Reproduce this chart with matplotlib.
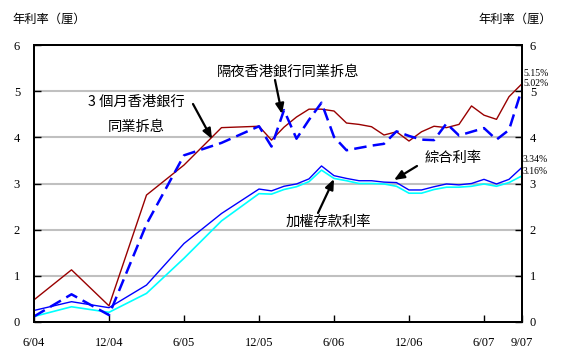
import matplotlib
matplotlib.use("Agg")
import matplotlib.pyplot as plt

# ---------------- data ----------------
periods = ["6/04", "9/04", "12/04", "3/05", "6/05", "9/05", "12/05",
           "1/06", "2/06", "3/06", "4/06", "5/06", "6/06", "7/06", "8/06",
           "9/06", "10/06", "11/06", "12/06", "1/07", "2/07", "3/07", "4/07",
           "5/07", "6/07", "7/07", "8/07", "9/07"]

hibor_3m = [0.48, 1.13, 0.35, 2.75, 3.40, 4.21, 4.24,
            3.94, 4.22, 4.44, 4.61, 4.61, 4.57, 4.31, 4.28,
            4.23, 4.05, 4.12, 3.92, 4.12, 4.24, 4.21, 4.28,
            4.68, 4.48, 4.39, 4.88, 5.15]

hibor_on = [0.12, 0.60, 0.15, 2.12, 3.61, 3.88, 4.24,
            3.80, 4.59, 3.97, 4.38, 4.75, 4.01, 3.72, 3.77,
            3.82, 3.86, 4.13, 4.03, 3.95, 3.94, 4.30, 4.04,
            4.12, 4.20, 3.95, 4.16, 5.02]

composite = [0.25, 0.44, 0.31, 0.80, 1.70, 2.35, 2.88,
             2.84, 2.94, 2.99, 3.10, 3.38, 3.17, 3.11, 3.06,
             3.06, 3.03, 3.02, 2.86, 2.86, 2.93, 2.99, 2.97,
             3.00, 3.09, 2.99, 3.09, 3.34]

weighted_deposit = [0.12, 0.33, 0.21, 0.62, 1.38, 2.19, 2.78,
                    2.77, 2.87, 2.93, 3.04, 3.29, 3.11, 3.06, 3.00,
                    3.00, 2.99, 2.94, 2.79, 2.79, 2.87, 2.92, 2.92,
                    2.94, 2.99, 2.94, 3.02, 3.16]

xtick_labels = ["6/04", "12/04", "6/05", "12/05", "6/06", "12/06", "6/07", "9/07"]
ytick_values = [0, 1, 2, 3, 4, 5, 6]
end_labels = ["5.15%", "5.02%", "3.34%", "3.16%"]

axis_title = "年利率（厘）"
label_on = "隔夜香港銀行同業拆息"
label_3m_1 = "3 個月香港銀行"
label_3m_2 = "同業拆息"
label_comp = "綜合利率"
label_wd = "加權存款利率"


def month_index(s):
    m, y = s.split("/")
    return (int(y) - 4) * 12 + int(m) - 6


x = [month_index(p) for p in periods]
xticks = [month_index(p) for p in xtick_labels]

# ---------------- figure ----------------
W, H = 565, 361
fig = plt.figure(figsize=(W / 100, H / 100), dpi=100)
L, R, T, B = 34, 521.5, 45, 322
ax = fig.add_axes([L / W, 1 - B / H, (R - L) / W, (B - T) / H])

cjk = ["Noto Sans CJK TC", "DejaVu Sans"]
serif = "Liberation Serif"

ax.set_xlim(x[0], x[-1])
ax.set_ylim(0, 6)
for v in ytick_values[1:-1]:
    ax.axhline(v, color="#c0c0c0", lw=1.5, zorder=1)

ax.plot(x, weighted_deposit, color="#00ffff", lw=1.2, zorder=3)
ax.plot(x, composite, color="#0000ff", lw=1.0, zorder=4)
ax.plot(x, hibor_3m, color="#990000", lw=1.0, zorder=3)
ax.plot(x, hibor_on, color="#0000ff", lw=1.8, dashes=(5, 2.5), zorder=5)

for s in ax.spines.values():
    s.set_linewidth(1.4)
    s.set_color("black")

ax.set_xticks(xticks)
ax.set_xticklabels(xtick_labels, fontfamily=serif, fontsize=9)
ax.tick_params(axis="x", direction="in", length=5, width=1, pad=11)
ax.set_yticks(ytick_values)
ax.set_yticklabels([str(v) for v in ytick_values], fontfamily=serif, fontsize=9)
ax.tick_params(axis="y", direction="in", length=5, width=1, pad=10)

# right-hand axis with the same scale
axr = ax.twinx()
axr.set_ylim(ax.get_ylim())
axr.set_yticks(ytick_values)
axr.set_yticklabels([str(v) for v in ytick_values], fontfamily=serif, fontsize=9)
axr.tick_params(axis="y", direction="in", length=5, width=1, pad=6)
for s in axr.spines.values():
    s.set_linewidth(1.4)


def fp(px, py):
    return (px, H - py)


fig.text(12 / W, 1 - 19 / H, axis_title, family=cjk, fontsize=8.8,
         ha="left", va="center")
fig.text(478 / W, 1 - 19 / H, axis_title, family=cjk, fontsize=8.8,
         ha="left", va="center")

fig.text(288 / W, 1 - 72 / H, label_on, family=cjk, fontsize=10.3,
         ha="center", va="center")
fig.text(136 / W, 1 - 102 / H, label_3m_1, family=cjk, fontsize=10.3,
         ha="center", va="center")
fig.text(136 / W, 1 - 127 / H, label_3m_2, family=cjk, fontsize=10.3,
         ha="center", va="center")
fig.text(453 / W, 1 - 158 / H, label_comp, family=cjk, fontsize=10.3,
         ha="center", va="center")
fig.text(328 / W, 1 - 222 / H, label_wd, family=cjk, fontsize=10.3,
         ha="center", va="center")

arrows = [((193, 104), (212, 139)),
          ((275, 80), (282, 114)),
          ((417, 166), (394, 180)),
          ((318, 213), (334, 179))]
for (x0, y0), (x1, y1) in arrows:
    axr.annotate("", xy=fp(x1, y1), xycoords="figure pixels",
                 xytext=fp(x0, y0), textcoords="figure pixels",
                 arrowprops=dict(arrowstyle="-|>,head_length=0.6,head_width=0.25",
                                 color="black", lw=1.6, shrinkA=0, shrinkB=0),
                 zorder=6)

end_y = [73, 83, 160, 172]
for lab, py in zip(end_labels, end_y):
    fig.text(523 / W, 1 - py / H, lab, family=serif, fontsize=7,
             ha="left", va="center")

fig.savefig("out.png", dpi=100)
